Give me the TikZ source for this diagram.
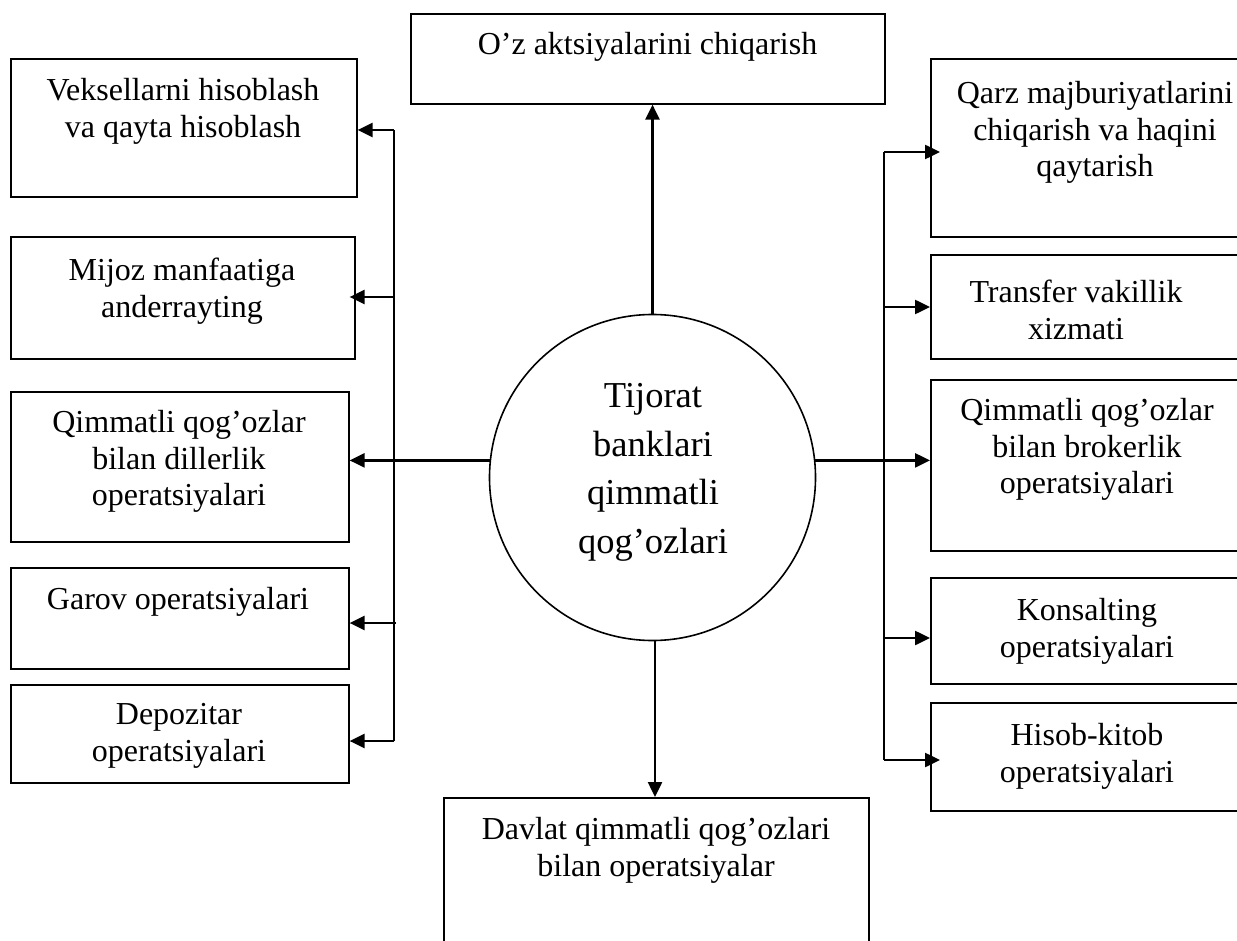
\documentclass[tikz,border=0pt]{standalone}
\usepackage{fontspec}
\setmainfont{Liberation Serif}
\usetikzlibrary{arrows.meta}
\begin{document}
\begin{tikzpicture}[x=1pt,y=-1pt,
  box/.style={draw=black,line width=1.6pt,minimum width=#1,anchor=north west,inner sep=0pt},
  lbl/.style={anchor=north,inner sep=0pt,align=center,font=\fontsize{32}{36.7}\selectfont},
  conn/.style={draw=black,line width=2.5pt},
  arr/.style={conn,-{Triangle[length=15pt,width=14pt]}}]
\useasboundingbox (0,0) rectangle (1237,941);
\clip (0,0) rectangle (1237,941);
% left boxes
\node[box=346pt,minimum height=138pt] (b1) at (10,58) {};
\node[box=344pt,minimum height=122pt] (b2) at (10,236) {};
\node[box=338pt,minimum height=150pt] (b3) at (10,391) {};
\node[box=338pt,minimum height=101pt] (b4) at (10,567) {};
\node[box=338pt,minimum height=98pt] (b5) at (10,684) {};
% top and bottom
\node[box=474pt,minimum height=90pt] (t) at (410,13) {};
\node[box=425pt,minimum height=170pt] (bt) at (443,797) {};
% right boxes
\node[box=330pt,minimum height=178pt] (r1) at (930,58) {};
\node[box=330pt,minimum height=104pt] (r2) at (930,254) {};
\node[box=330pt,minimum height=171pt] (r3) at (930,379) {};
\node[box=330pt,minimum height=106pt] (r4) at (930,577) {};
\node[box=330pt,minimum height=108pt] (r5) at (930,702) {};
% circle
\node[draw=black,line width=1.6pt,circle,minimum size=326pt,inner sep=0pt] (c) at (652.5,477.5) {};
% labels
\node[lbl] (tb1) at (183,78) {Veksellarni hisoblash\\va qayta hisoblash};
\node[lbl] (tb2) at (182,258) {Mijoz manfaatiga\\anderrayting};
\node[lbl] (tb3) at (179,410) {Qimmatli qog’ozlar\\bilan dillerlik\\operatsiyalari};
\node[lbl] (tb4) at (178,587) {Garov operatsiyalari};
\node[lbl] (tb5) at (179,703) {Depozitar\\operatsiyalari};
\node[lbl] (tt) at (647.5,32) {O’z aktsiyalarini chiqarish};
\node[lbl] (tbt) at (656,817) {Davlat qimmatli qog’ozlari\\bilan operatsiyalar};
\node[lbl] (tr1) at (1095,81) {Qarz majburiyatlarini\\chiqarish va haqini\\qaytarish};
\node[lbl] (tr2) at (1076,280) {Transfer vakillik\\xizmati};
\node[lbl] (tr3) at (1087,398) {Qimmatli qog’ozlar\\bilan brokerlik\\operatsiyalari};
\node[lbl] (tr4) at (1087,598) {Konsalting\\operatsiyalari};
\node[lbl] (tr5) at (1087,723) {Hisob-kitob\\operatsiyalari};
\node[anchor=north,inner sep=0pt,align=center,font=\fontsize{36.5}{48.7}\selectfont] (tc) at (653,383) {Tijorat\\banklari\\qimmatli\\qog’ozlari};
% junction coordinates
\coordinate (l1) at (394,130);
\coordinate (l2) at (394,297);
\coordinate (l4) at (396,623);
\coordinate (l5) at (394,741);
\coordinate (q1) at (884,152);
\coordinate (q2) at (884,307);
\coordinate (q4) at (884,638);
\coordinate (q5) at (884,760);
% left bus
\draw[conn] (l1) -- (l5);
\draw[arr] (l1) -- (l1 -| b1.east);
\draw[arr] (l2) -- ([xshift=-6pt]l2 -| b2.east);
\draw[arr] (c.174) -- (c.174 -| b3.east);
\draw[arr] (l4) -- (l4 -| b4.east);
\draw[arr] (l5) -- (l5 -| b5.east);
% right bus
\draw[conn] (q1) -- (q5);
\draw[arr] (q1) -- ([xshift=10pt]q1 -| r1.west);
\draw[arr] (q2) -- (q2 -| r2.west);
\draw[arr] (c.6) -- (c.6 -| r3.west);
\draw[arr] (q4) -- (q4 -| r4.west);
\draw[arr] (q5) -- ([xshift=10pt]q5 -| r5.west);
% vertical
\draw[arr] (c.north) -- (c.north |- t.south);
\draw[arr] ([xshift=2.5pt]c.south) -- ([xshift=2.5pt]c.south |- bt.north);
\end{tikzpicture}
\end{document}
